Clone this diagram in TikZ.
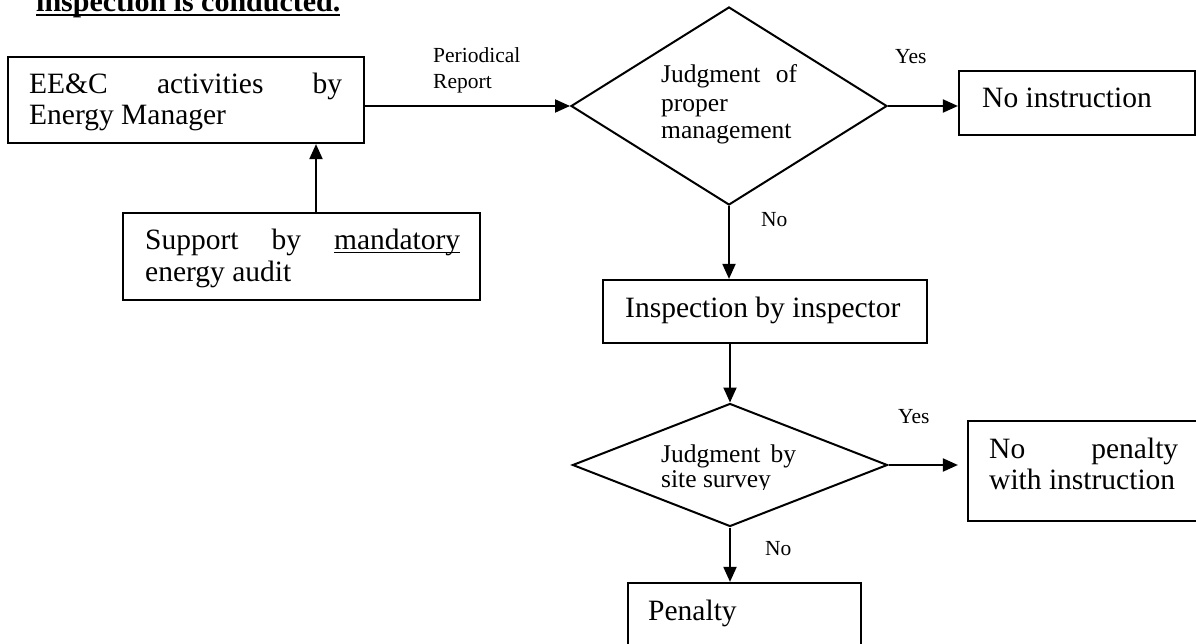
\documentclass[tikz,border=0pt]{standalone}
\usepackage{fontspec}
\setmainfont{Liberation Serif}
\usetikzlibrary{shapes.geometric,arrows.meta}
% underline drawn as a rule at a fixed offset below the baseline
\newcommand\ulword[3]{\setbox0=\hbox{#3}\rlap{\rule[#1]{\wd0}{#2}}\box0}
\begin{document}
\begin{tikzpicture}[x=1pt,y=-1pt,
  box/.style={draw, rectangle, inner sep=0pt, line width=2.2pt},
  decision/.style={draw, diamond, inner sep=0pt, line width=2pt},
  txt/.style={anchor=base west, inner sep=0pt, font=\fontsize{29.5}{31}\selectfont},
  dtxt/.style={anchor=base west, inner sep=0pt, font=\fontsize{25.5}{28}\selectfont},
  lbl/.style={anchor=base west, inner sep=0pt, font=\fontsize{21.5}{26}\selectfont},
  arr/.style={-{Triangle[length=15pt,width=13pt]}, line width=2pt}]
\useasboundingbox (0,0) rectangle (1196,644);

% heading (partly above the top edge)
\node[anchor=base west, inner sep=0pt, font=\fontsize{30}{34}\selectfont\bfseries] (title) at (36,12)
  {\ulword{-4.5pt}{2.6pt}{inspection is conducted.}};

% boxes
\node[box, minimum width=356pt, minimum height=86pt] (b1) at (186,100) {};
\node[box, minimum width=357pt, minimum height=87pt] (sup) at (301.5,256.5) {};
\node[box, minimum width=236pt, minimum height=64pt] (ni) at (1077,103) {};
\node[box, minimum width=324pt, minimum height=63pt] (insp) at (765,311.5) {};
\node[box, minimum width=230pt, minimum height=100pt] (np) at (1083,471) {};
\node[box, minimum width=233pt, minimum height=77pt] (pen) at (744.5,621.5) {};

% decisions
\node[decision, minimum width=316pt, minimum height=198pt] (d1) at (729,106) {};
\node[decision, minimum width=315pt, minimum height=123pt] (d2) at (730,465) {};

% box texts
\node[txt] (b1a) at (29,94) {\makebox[313pt][s]{EE\&C activities by}};
\node[txt] (b1b) at (29,125) {Energy Manager};
\node[txt] (supa) at (145,250) {\makebox[315pt][s]{Support by \ulword{-3.5pt}{1.4pt}{mandatory}}};
\node[txt] (supb) at (145,281) {energy audit};
\node[txt] (nit) at (982,108) {No instruction};
\node[txt] (inspt) at (625,317) {Inspection by inspector};
\node[txt] (npa) at (989,458) {\makebox[189pt][s]{No penalty}};
\node[txt] (npb) at (989,489) {with instruction};
\node[txt] (pent) at (648,620) {Penalty};

% decision texts
\node[dtxt] (d1a) at (661,83) {\makebox[136pt][s]{Judgment of}};
\node[dtxt] (d1b) at (661,112) {proper};
\node[dtxt] (d1c) at (661,139) {management};
\node[dtxt] (d2a) at (661,462) {\makebox[135pt][s]{Judgment by}};
\begin{scope}
  \clip (640,440) rectangle (820,489);
  \node[dtxt] (d2b) at (661,487) {site survey};
\end{scope}

% connector labels
\node[lbl] (rep1) at (433,63) {Periodical};
\node[lbl] (rep2) at (433,89) {Report};
\node[lbl] (yes1) at (895,64) {Yes};
\node[lbl] (no1) at (761,227) {No};
\node[lbl] (yes2) at (898,423) {Yes};
\node[lbl] (no2) at (765,555) {No};

% connectors
\coordinate (upx) at (316,0);
\draw[arr] (sup.north -| upx) -- (b1.south -| upx);
\draw[arr] (b1.east |- d1.west) -- (d1.west);
\draw[arr] (d1.east) -- (d1.east -| ni.west);
\draw[arr] (d1.south) -- (d1.south |- insp.north);
\draw[arr] (insp.south -| d2.north) -- (d2.north);
\draw[arr, shorten >=9pt] (d2.east) -- (d2.east -| np.west);
\draw[arr] (d2.south) -- (d2.south |- pen.north);
\end{tikzpicture}
\end{document}
